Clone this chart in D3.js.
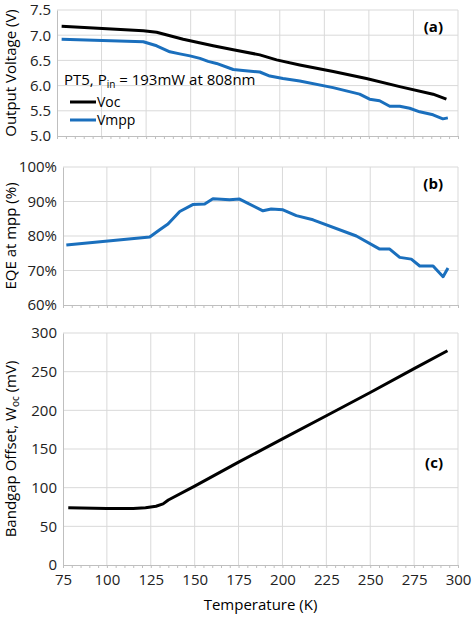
<!DOCTYPE html>
<html><head><meta charset="utf-8">
<script src="https://cdnjs.cloudflare.com/ajax/libs/d3/7.8.5/d3.min.js"></script>
<style>body{margin:0;background:#fff}text{font-family:"Open Sans",sans-serif}</style>
</head><body><svg id="chart" width="474" height="620"></svg>
<script>
// data
var vocData = [[77.6,7.18],[123.4,7.09],[130.9,7.06],[145.8,6.92],[162.6,6.79],[173.9,6.71],[188.8,6.61],[198.2,6.51],[211.2,6.41],[230,6.28],[248.6,6.14],[267.3,5.98],[286,5.83],[293.5,5.73]];
var vmppData = [[77.6,6.92],[123.4,6.87],[130.9,6.79],[138.3,6.67],[143.9,6.63],[149.6,6.59],[155.2,6.54],[159.8,6.48],[164.5,6.44],[173.9,6.32],[179.3,6.30],[188.8,6.27],[194.4,6.19],[201.8,6.14],[211.2,6.09],[229.9,5.96],[244.8,5.83],[250.4,5.73],[256,5.70],[261.7,5.59],[267.3,5.59],[272.9,5.55],[278.5,5.48],[286,5.42],[291.5,5.34],[294.3,5.36]];
var eqeData = [[76.9,77.4],[124.4,79.7],[130.1,81.8],[134.8,83.5],[141.5,87.1],[148.9,89.1],[155.7,89.3],[160.4,90.8],[169.9,90.5],[175.6,90.7],[188.9,87.3],[193.6,87.8],[200.3,87.6],[207.9,85.9],[217.4,84.7],[242.1,80.0],[255.4,76.2],[261.1,76.2],[266.8,73.8],[273.4,73.3],[278.2,71.3],[285.8,71.3],[291.5,68.2],[294.3,70.7]];
var offsetData = [[78,74],[100,73],[115,73],[122,74],[128,76],[132,79],[135,84],[150,102],[175,133],[200,163],[225,193],[250,223],[275,254],[294,277]];
var xTicks = [75,100,125,150,175,200,225,250,275,300];
var vTicks = [5.0,5.5,6.0,6.5,7.0,7.5];
var eqeTicks = [60,70,80,90,100];
var offTicks = [0,50,100,150,200,250,300];

var svg = d3.select('#chart');
var black = '#000', blue = '#1a6fbd';

function panel(o) {
  var x = d3.scaleLinear().domain([75,300]).range([o.left,458]);
  var y = d3.scaleLinear().domain(o.domain).range([o.bottom,o.top]);
  var g = svg.append('g');
  // gridlines
  g.selectAll('.vg').data(xTicks.slice(1)).enter().append('line')
    .attr('x1',x).attr('x2',x).attr('y1',o.top).attr('y2',o.bottom).attr('stroke','#d9d9d9');
  g.selectAll('.hg').data(o.ticks.slice(1)).enter().append('line')
    .attr('x1',o.left).attr('x2',458).attr('y1',y).attr('y2',y).attr('stroke','#d9d9d9');
  // axes
  var ya = g.append('g').attr('transform','translate('+o.left+',0)')
    .call(d3.axisLeft(y).tickValues(o.ticks).tickFormat(o.fmt).tickSize(0).tickPadding(6));
  ya.select('.domain').attr('stroke','#bfbfbf');
  ya.selectAll('text').attr('font-size',15).attr('fill','#222');
  var minor = d3.range(75,301,5);
  var xa = g.append('g').attr('transform','translate(0,'+o.bottom+')')
    .call(d3.axisBottom(x).tickValues(minor).tickSize(3).tickFormat(''));
  xa.select('.domain').attr('stroke','#bfbfbf');
  xa.selectAll('line').attr('stroke','#bfbfbf');
  if (o.labels) {
    g.append('g').attr('transform','translate(0,'+o.bottom+')')
      .call(d3.axisBottom(x).tickValues(xTicks).tickSize(0).tickPadding(9))
      .call(function(s){s.select('.domain').remove();s.selectAll('text').attr('font-size',15).attr('fill','#222');});
    g.append('text').attr('x',(o.left+458)/2).attr('y',610).attr('text-anchor','middle')
      .attr('font-size',15).text('Temperature  (K)');
  }
  var line = d3.line().x(function(d){return x(d[0]);}).y(function(d){return y(d[1]);});
  o.series.forEach(function(s){
    g.append('path').datum(s.data).attr('d',line).attr('fill','none')
      .attr('stroke',s.color).attr('stroke-width',3).attr('stroke-linejoin','round');
  });
  g.append('text').attr('class','tag').attr('x',443).attr('y',o.top+22).attr('text-anchor','end')
    .attr('font-size',15).attr('font-weight','bold').text(o.tag);
  var t = g.append('text').attr('transform','translate(16,'+(o.top+o.bottom)/2+') rotate(-90)')
    .attr('text-anchor','middle').attr('font-size',15);
  return {g:g,t:t,x:x,y:y};
}

var a = panel({left:57,top:10,bottom:136,domain:[5,7.5],ticks:vTicks,fmt:d3.format('.1f'),tag:'(a)',
  series:[{data:vocData,color:black},{data:vmppData,color:blue}]});
a.t.text('Output Voltage (V)');
var cap = a.g.append('text').attr('x',64).attr('y',85).attr('font-size',15);
cap.append('tspan').text('PT5, P');
cap.append('tspan').attr('font-size',10).attr('dy',3).text('in');
cap.append('tspan').attr('dy',-3).text(' = 193mW at 808nm');
[['Voc',black,107],['Vmpp',blue,125]].forEach(function(l){
  a.g.append('line').attr('x1',70).attr('x2',96).attr('y1',l[2]-5).attr('y2',l[2]-5).attr('stroke',l[1]).attr('stroke-width',3);
  a.g.append('text').attr('x',97).attr('y',l[2]).attr('font-size',14).text(l[0]);
});

var b = panel({left:63,top:167,bottom:305,domain:[60,100],ticks:eqeTicks,fmt:function(d){return d+'%';},tag:'(b)',
  series:[{data:eqeData,color:blue}]});
b.t.text('EQE at mpp (%)');

var c = panel({left:63,top:333,bottom:565,domain:[0,300],ticks:offTicks,fmt:d3.format('d'),tag:'(c)',labels:true,
  series:[{data:offsetData,color:black}]});
c.g.select('.tag').attr('y',468);
c.t.text('Bandgap Offset, W');
c.t.append('tspan').attr('font-size',10).attr('dy',3).text('oc');
c.t.append('tspan').attr('dy',-3).text(' (mV)');
</script></body></html>
